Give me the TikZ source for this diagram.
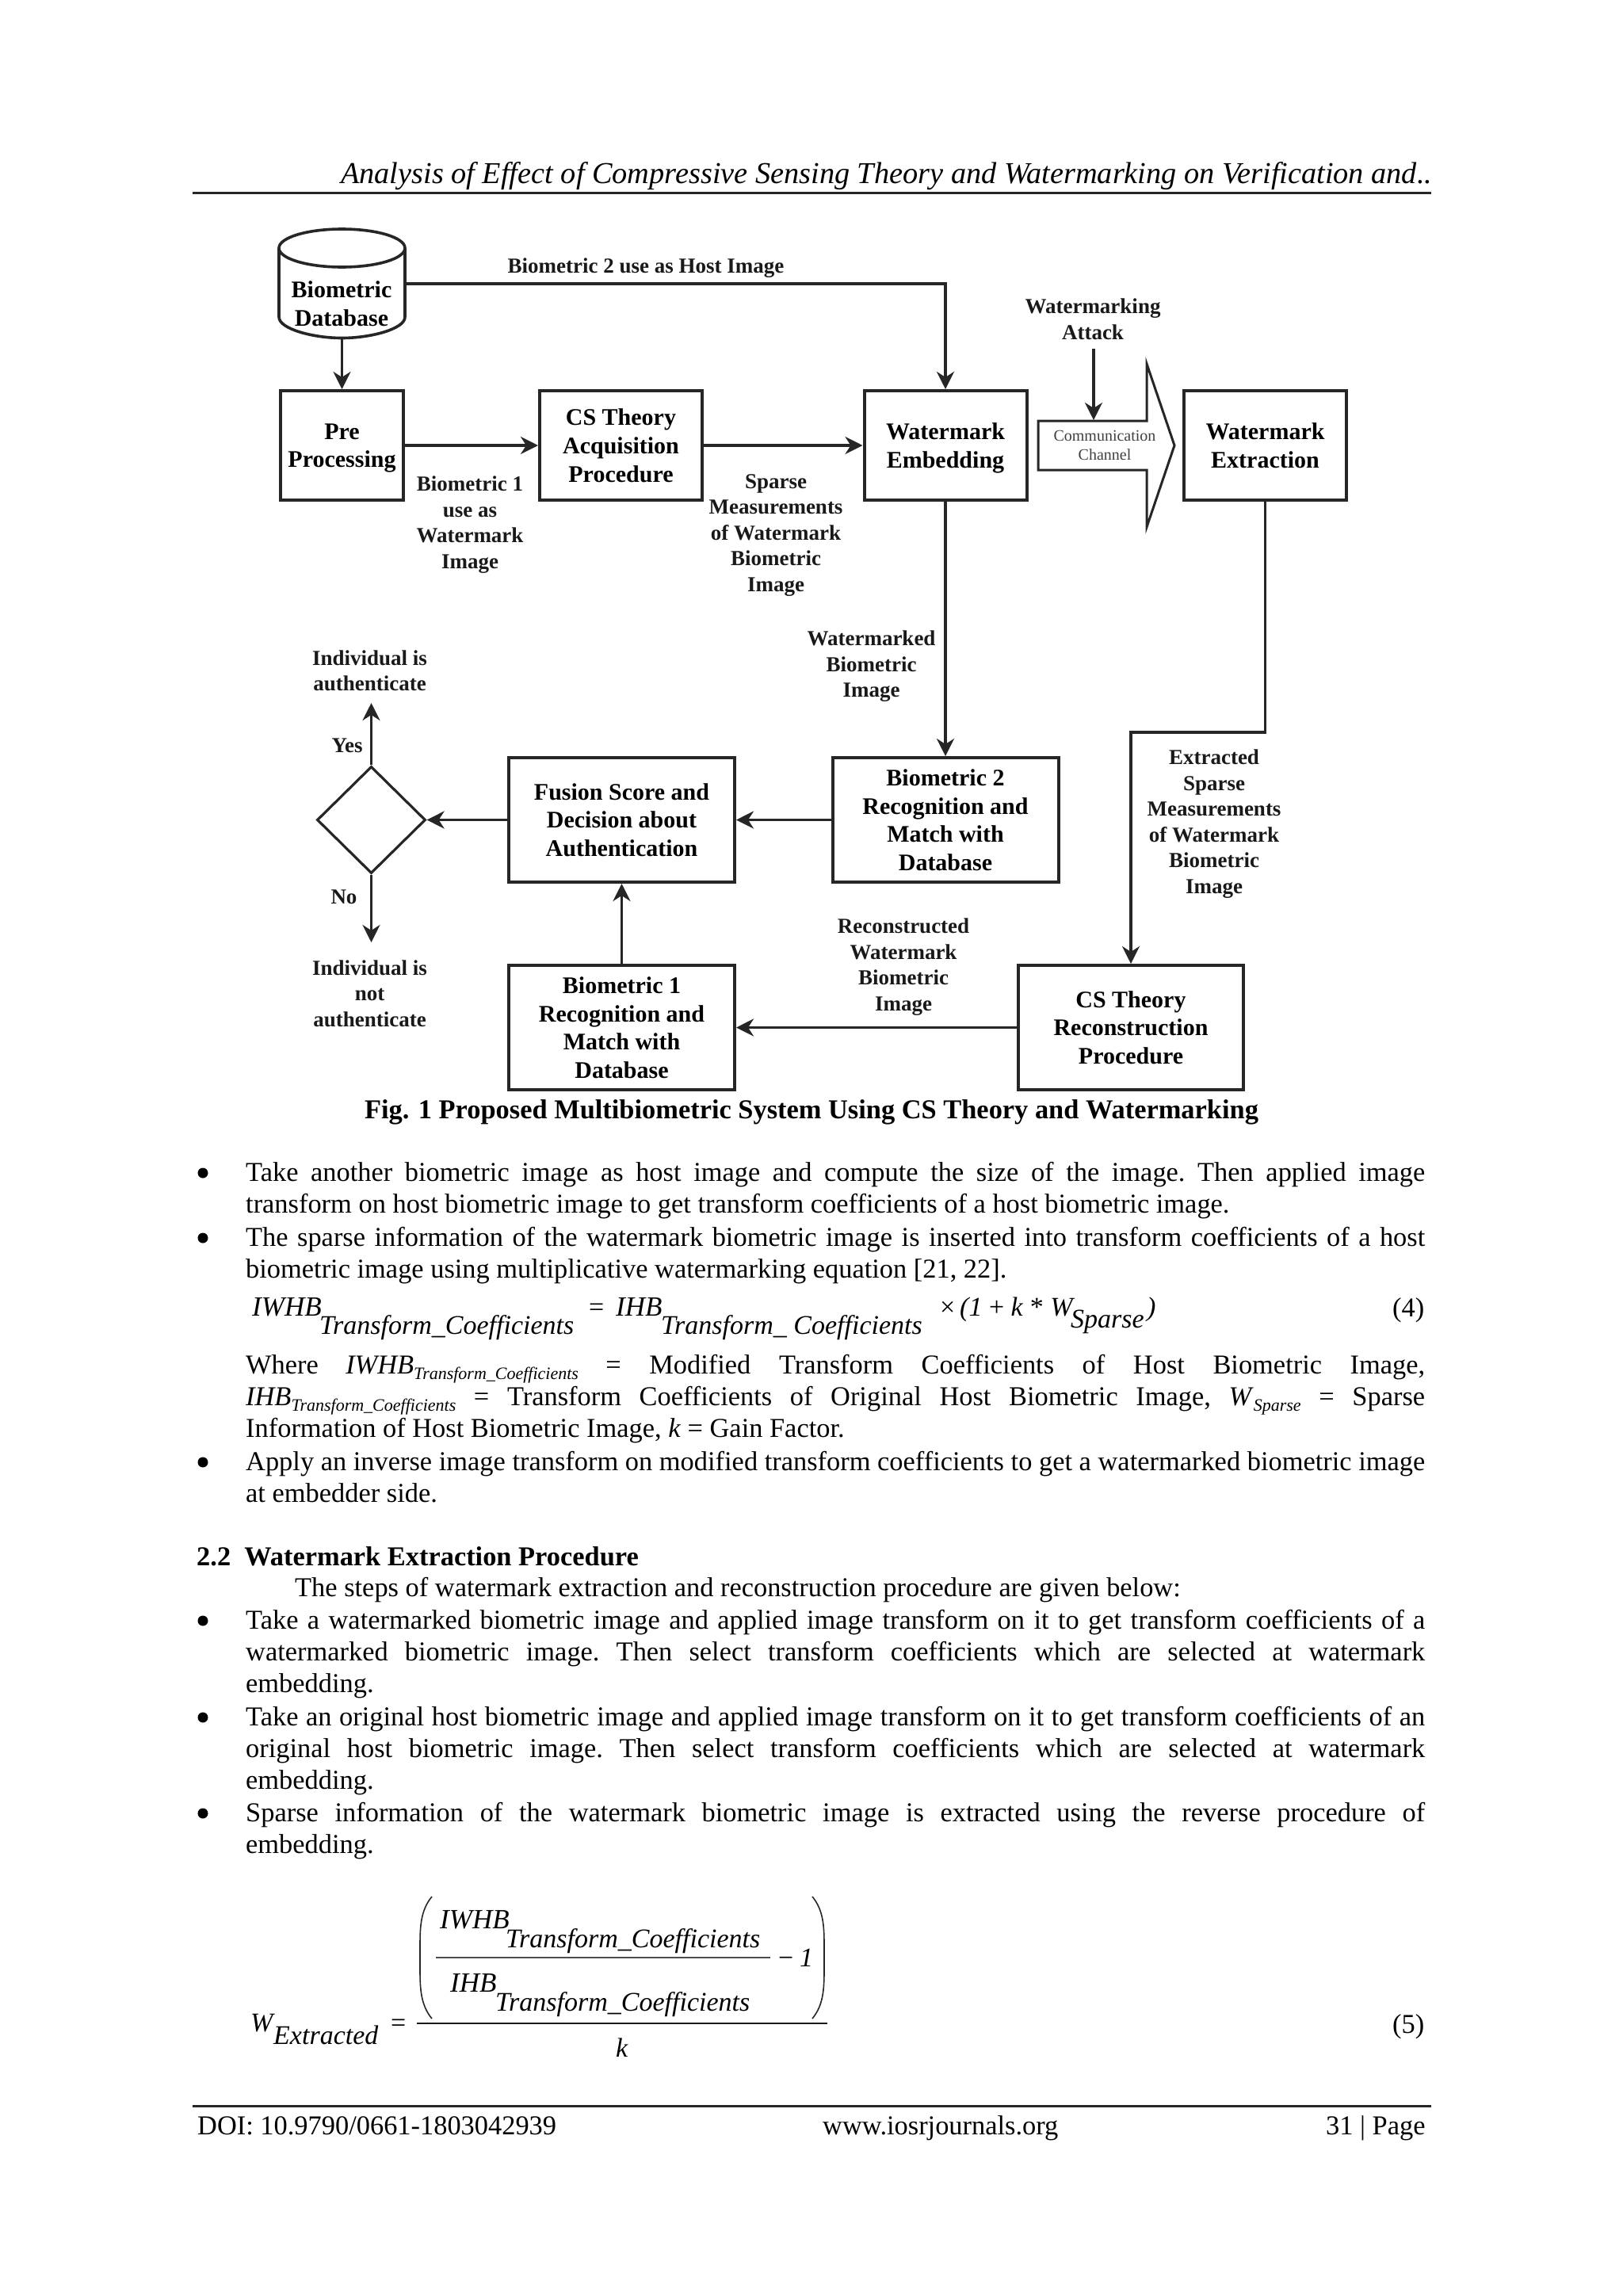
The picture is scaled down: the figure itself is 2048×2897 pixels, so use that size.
\documentclass[tikz,border=0pt]{standalone}
\usepackage{fontspec}
\setmainfont{Liberation Serif}
\usetikzlibrary{arrows.meta,shapes.geometric}
\newcommand{\lowtext}[1]{\smash{\raisebox{-7pt}{\fontsize{22}{22}\selectfont\itshape #1}}}
\tikzset{
  blockbox/.style={draw=black!85, line width=4pt, align=center, inner sep=0pt, text depth=0pt, font=\bfseries\fontsize{30}{35.6}\selectfont},
  edgetext/.style={align=center, inner sep=0pt, text depth=0pt, font=\bfseries\fontsize{27}{32.5}\selectfont, text=black!90},
  flow/.style={line width=3.6pt, draw=black!85, -{Stealth[length=22pt,width=22pt,inset=7pt]}},
  outline/.style={line width=3.6pt, draw=black!85},
  bodytext/.style={anchor=base west, inner sep=0pt, text width=1488pt, align=justify, font=\frenchspacing\fontsize{34.4}{40.2}\selectfont},
  plainline/.style={anchor=base west, inner sep=0pt, font=\fontsize{34.4}{40.2}\selectfont},
  bulletmark/.style={circle, fill=black, inner sep=0pt, minimum size=13pt},
  mathbig/.style={anchor=base west, inner sep=0pt, font=\itshape\fontsize{35}{35}\selectfont},
  mathlow/.style={anchor=base west, inner sep=0pt, font=\itshape\fontsize{34}{34}\selectfont},
  mathsign/.style={anchor=base west, inner sep=0pt, font=\fontsize{34}{34}\selectfont},
  pagerule/.style={line width=3pt, draw=black!85},
}
\begin{document}
\begin{tikzpicture}[x=1pt,y=-1pt]
\useasboundingbox[fill=white] (0,0) rectangle (2048,2897);
\node[plainline, font=\itshape\fontsize{38.3}{40}\selectfont] (header) at (430,231) {Analysis of Effect of Compressive Sensing Theory and Watermarking on Verification and..};
\coordinate (headleft) at (243,243);
\coordinate (headright) at (1806,243);
\draw[pagerule] (headleft) -- (headright);
\node[inner sep=0pt, minimum width=159pt, minimum height=137pt] (db) at (431.5,358) {};
\draw[outline] (431.5,313) ellipse[x radius=79.5pt, y radius=24pt];
\draw[outline] (352,313) -- (352,400) .. controls (352,415) and (395,426.5) .. (431.5,426.5) .. controls (468,426.5) and (511,415) .. (511,400) -- (511,313);
\node[blockbox, draw=none] (dbtext) at (431,383) {Biometric\\Database};
\node[blockbox, minimum width=155pt, minimum height=138pt] (pre) at (431.5,562) {Pre\\Processing};
\node[blockbox, minimum width=205pt, minimum height=138pt] (acquire) at (783.5,562) {CS Theory\\Acquisition\\Procedure};
\node[blockbox, minimum width=205pt, minimum height=138pt] (embed) at (1193,562) {Watermark\\Embedding};
\node[blockbox, minimum width=205pt, minimum height=138pt] (extract) at (1596.5,562) {Watermark\\Extraction};
\node[blockbox, minimum width=285pt, minimum height=157pt] (bio2) at (1193,1034.5) {Biometric 2\\Recognition and\\Match with\\Database};
\node[blockbox, minimum width=285pt, minimum height=157pt] (fusion) at (784.5,1034.5) {Fusion Score and\\Decision about\\Authentication};
\node[blockbox, minimum width=285pt, minimum height=157pt] (bio1) at (784.5,1296.5) {Biometric 1\\Recognition and\\Match with\\Database};
\node[blockbox, minimum width=284pt, minimum height=157pt] (recon) at (1427,1296.5) {CS Theory\\Reconstruction\\Procedure};
\node[diamond, aspect=1, draw=black!85, line width=3.2pt, minimum width=137pt, minimum height=135pt, inner sep=0pt] (decision) at (468.5,1034.5) {};
\draw[draw=black!85, line width=3pt, miter limit=10] (1310,531) -- (1447,531) -- (1447,459) -- (1482,562) -- (1447,665) -- (1447,593) -- (1310,593) -- cycle;
\node[align=center, inner sep=0pt, text=black!75, font=\fontsize{20}{23.5}\selectfont] (channel) at (1394,562) {Communication\\Channel};
\node[edgetext] (hosttext) at (815,335) {Biometric 2 use as Host Image};
\node[edgetext] (marktext) at (593,659) {Biometric 1\\use as\\Watermark\\Image};
\node[edgetext] (sparsetext) at (979,672.5) {Sparse\\Measurements\\of Watermark\\Biometric\\Image};
\node[edgetext] (attacktext) at (1379,402.5) {Watermarking\\Attack};
\node[edgetext] (markedtext) at (1099.5,838) {Watermarked\\Biometric\\Image};
\node[edgetext] (extracttext) at (1532,1036.5) {Extracted\\Sparse\\Measurements\\of Watermark\\Biometric\\Image};
\node[edgetext] (rebuilttext) at (1140,1217) {Reconstructed\\Watermark\\Biometric\\Image};
\node[edgetext] (yestext) at (466.5,846) {Individual is\\authenticate};
\node[edgetext] (notext) at (466.5,1253.5) {Individual is\\not\\authenticate};
\node[edgetext] (yesmark) at (438,941) {Yes};
\node[edgetext] (nomark) at (434,1132) {No};
\coordinate (hostbend) at (1193,358);
\coordinate (attackstart) at (1380,440);
\coordinate (attackend) at (1380,530);
\coordinate (extractbend) at (1596.5,924);
\coordinate (reconbend) at (1427,924);
\coordinate (yesend) at (468.5,887);
\coordinate (noend) at (468.5,1189);
\draw[flow] (db) -- (hostbend) -- (embed);
\draw[flow] (db) -- (pre);
\draw[flow] (pre) -- (acquire);
\draw[flow] (acquire) -- (embed);
\draw[flow] (attackstart) -- (attackend);
\draw[flow] (embed) -- (bio2);
\draw[flow] (extract) -- (extractbend) -- (reconbend) -- (recon);
\draw[flow] (recon) -- (bio1);
\draw[flow] (bio1) -- (fusion);
\draw[flow] (bio2) -- (fusion);
\draw[flow] (fusion) -- (decision);
\draw[flow] (decision) -- (yesend);
\draw[flow] (decision) -- (noend);
\node[anchor=base, inner sep=0pt, font=\bfseries\fontsize{34.4}{36}\selectfont] (caption) at (1024,1411) {Fig. 1 Proposed Multibiometric System Using CS Theory and Watermarking};
\node[bulletmark] (bulleta) at (256,1480) {};
\node[bodytext] (para1) at (310,1490.5) {Take another biometric image as host image and compute the size of the image. Then applied image\linebreak transform on host biometric image to get transform coefficients of a host biometric image.};
\node[bulletmark] (bulletb) at (256,1562) {};
\node[bodytext] (para2) at (310,1572) {The sparse information of the watermark biometric image is inserted into transform coefficients of a host\linebreak biometric image using multiplicative watermarking equation [21, 22].};
\node[mathbig] (eqa) at (318,1660) {IWHB};
\node[mathlow] (eqb) at (403,1683) {Transform\_Coefficients};
\node[mathsign] (eqc) at (743,1660) {=};
\node[mathbig] (eqd) at (777,1660) {IHB};
\node[mathlow] (eqe) at (834,1683) {Transform\_ Coefficients};
\node[mathsign] (eqf) at (1186,1660) {×};
\node[mathlow] (eqg) at (1211,1660) {(1 \textup{+} k \textup{*} W};
\node[mathlow] (eqh) at (1351,1675) {Sparse};
\node[mathlow] (eqi) at (1447,1660) {)};
\node[plainline] (eqnum4) at (1757,1661) {(4)};
\node[bodytext] (para3) at (310,1733.5) {Where\quad \textit{IWHB}\lowtext{Transform\_Coefficients}\quad = Modified Transform Coefficients of Host Biometric Image,\linebreak \textit{IHB}\lowtext{Transform\_Coefficients}\ = Transform Coefficients of Original Host Biometric Image, \textit{W}\lowtext{Sparse}\ = Sparse\linebreak Information of Host Biometric Image, \textit{k} = Gain Factor.};
\node[bulletmark] (bulletc) at (256,1845) {};
\node[bodytext] (para4) at (310,1855) {Apply an inverse image transform on modified transform coefficients to get a watermarked biometric image\linebreak at embedder side.};
\node[plainline, font=\bfseries\fontsize{34.4}{40.2}\selectfont] (section) at (248,1975) {2.2\ \ Watermark Extraction Procedure};
\node[plainline] (intro) at (372,2014) {The steps of watermark extraction and reconstruction procedure are given below:};
\node[bulletmark] (bulletd) at (256,2045) {};
\node[bodytext] (para5) at (310,2055) {Take a watermarked biometric image and applied image transform on it to get transform coefficients of a\linebreak watermarked biometric image. Then select transform coefficients which are selected at watermark\linebreak embedding.};
\node[bulletmark] (bullete) at (256,2167) {};
\node[bodytext] (para6) at (310,2177) {Take an original host biometric image and applied image transform on it to get transform coefficients of an\linebreak original host biometric image. Then select transform coefficients which are selected at watermark\linebreak embedding.};
\node[bulletmark] (bulletf) at (256,2288) {};
\node[bodytext] (para7) at (310,2298) {Sparse information of the watermark biometric image is extracted using the reverse procedure of\linebreak embedding.};
\coordinate (bigleft) at (545,2393);
\coordinate (bigleftlow) at (545,2547);
\coordinate (bigright) at (1025,2393);
\coordinate (bigrightlow) at (1025,2547);
\draw[line width=1.6pt, draw=black!85] (bigleft) .. controls (531,2410) and (530,2430) .. (530,2455) -- (530,2485) .. controls (530,2510) and (531,2530) .. (bigleftlow);
\draw[line width=1.6pt, draw=black!85] (bigright) .. controls (1039,2410) and (1040,2430) .. (1040,2455) -- (1040,2485) .. controls (1040,2510) and (1039,2530) .. (bigrightlow);
\node[mathbig] (fraca) at (555,2433) {IWHB};
\node[mathlow] (fracb) at (638,2457) {Transform\_Coefficients};
\coordinate (innerleft) at (550,2470);
\coordinate (innerright) at (972,2470);
\draw[line width=2pt, draw=black!70] (innerleft) -- (innerright);
\node[mathsign] (fracc) at (982,2481) {−};
\node[mathlow] (fracd) at (1009,2481) {1};
\node[mathbig] (frace) at (568,2513) {IHB};
\node[mathlow] (fracf) at (625,2537) {Transform\_Coefficients};
\coordinate (outerleft) at (526,2553);
\coordinate (outerright) at (1044,2553);
\draw[line width=2.6pt, draw=black!90] (outerleft) -- (outerright);
\node[mathlow] (fracg) at (777,2595) {k};
\node[mathlow] (frach) at (316,2563) {W};
\node[mathlow] (fraci) at (345,2579) {Extracted};
\node[mathsign] (fracj) at (493,2563) {=};
\node[plainline] (eqnum5) at (1757,2565) {(5)};
\coordinate (footleft) at (243,2657);
\coordinate (footright) at (1806,2657);
\draw[pagerule] (footleft) -- (footright);
\node[plainline] (doi) at (249,2693) {DOI: 10.9790/0661-1803042939};
\node[plainline] (site) at (1038,2693) {www.iosrjournals.org};
\node[plainline] (pageno) at (1673,2693) {31 | Page};
\end{tikzpicture}
\end{document}
